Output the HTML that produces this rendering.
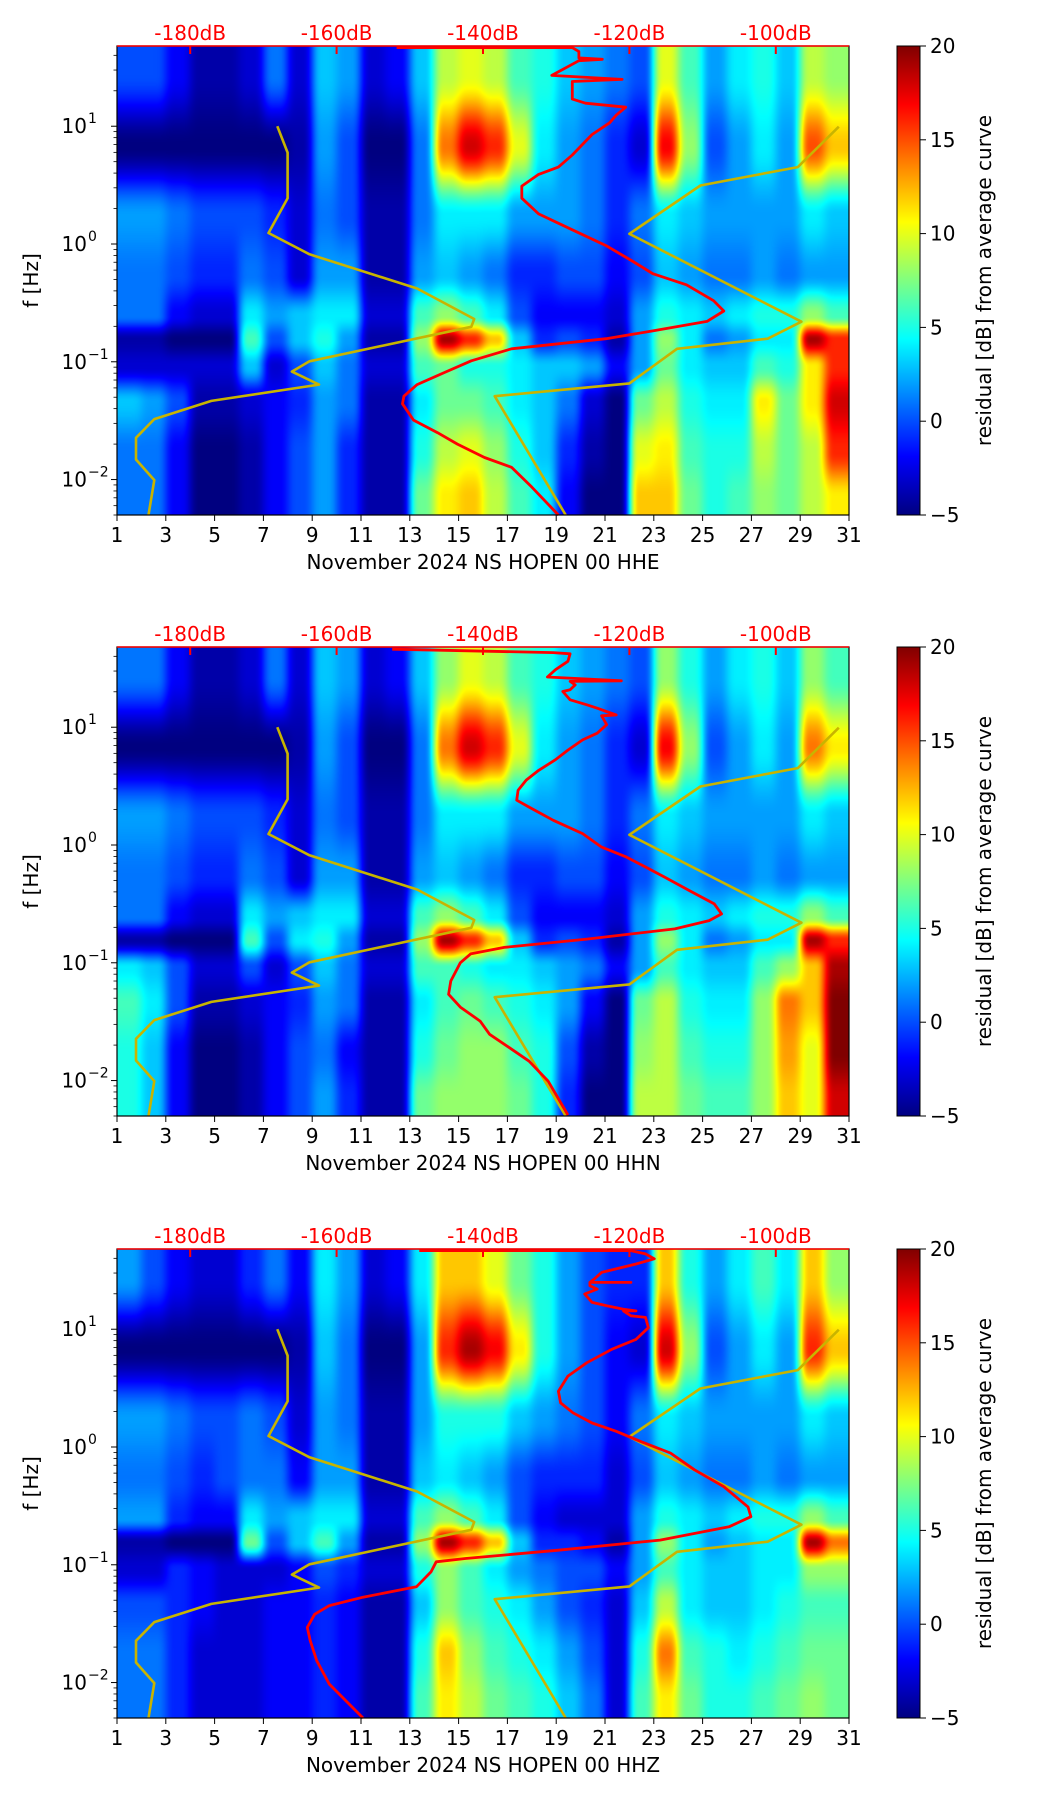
<!DOCTYPE html>
<html><head><meta charset="utf-8">
<style>
html,body{margin:0;padding:0;background:#fff;}
#root{position:relative;width:1052px;height:1806px;overflow:hidden;font-family:"DejaVu Sans","Liberation Sans",sans-serif;}
canvas{position:absolute;}
svg{position:absolute;left:0;top:0;}
</style></head>
<body>
<div id="root"></div>
<script>
// ---- data ----
const days = [1,2,3,4,5,6,7,8,9,10,11,12,13,14,15,16,17,18,19,20,21,22,23,24,25,26,27,28,29,30];
const bandCentersLog = [1.43,0.83,0.24,-0.26,-0.61,-0.81,-1.04,-1.34,-1.76,-2.15];
const xTicks = [1,3,5,7,9,11,13,15,17,19,21,23,25,27,29,31];
const dbTicks = [-180,-160,-140,-120,-100];
const cbTicks = [20,15,10,5,0,-5];
const yDecades = [-2,-1,0,1];

const residualHHE = [
[0,0,-2,-4,-4,-3,1,-3,3,2,-3,-2,3,9,10,9,6,5,3,2,1,0,10,6,2,4,5,3,9,8],
[-5,-5,-5,-5,-5,-5,-5,-4,2,0,-5,-5,1,14,18,16,10,4,2,1,-1,-3,17,8,0,2,4,2,15,12],
[2,2,1,0,0,0,-1,-3,1,0,-4,-4,1,4,4,4,2,2,2,1,-1,1,4,3,2,2,2,2,4,3],
[1,1,0,-1,-1,1,0,-3,2,2,-4,-4,2,3,2,1,-1,-1,0,0,-2,0,3,2,1,1,2,1,2,2],
[1,1,-2,-3,-3,4,2,3,4,4,-3,-3,6,8,6,4,0,-2,-2,-2,-3,2,5,4,3,4,5,5,8,6],
[-4,-4,-5,-5,-5,6,0,3,5,2,-4,-4,8,19,16,12,3,-1,0,-1,-4,2,8,4,1,2,4,4,19,16],
[-3,-3,-3,-3,-3,3,-3,0,3,1,-3,-3,6,7,5,5,4,3,3,2,-2,2,7,4,3,3,6,5,11,16],
[3,2,0,-4,-4,-3,-2,-1,2,1,-4,-4,4,7,7,6,4,3,1,-3,-5,7,9,5,4,4,11,7,11,18],
[1,1,-2,-5,-5,-4,-2,0,2,-1,-4,-4,5,9,10,8,5,3,-1,-4,-5,10,11,6,5,5,9,7,9,16],
[1,1,-2,-5,-5,-4,-2,0,2,-1,-4,-4,7,11,12,9,6,4,-2,-5,-5,12,12,7,5,6,8,7,9,11]];
const residualHHN = [
[1,1,-2,-4,-4,-3,1,-3,3,2,-3,-2,3,8,10,9,6,5,3,2,1,0,8,5,2,4,5,3,8,6],
[-5,-5,-5,-5,-5,-5,-5,-4,2,0,-5,-5,1,14,18,16,10,4,2,1,-1,-3,17,8,0,2,4,2,14,11],
[2,2,1,0,0,0,-1,-3,1,0,-4,-4,1,4,4,4,2,2,2,1,-1,1,4,3,2,2,2,2,4,3],
[1,1,0,-1,-1,1,0,-3,2,2,-4,-4,2,3,2,1,-1,-1,0,0,-2,0,3,2,1,1,2,1,2,2],
[1,1,-2,-3,-3,4,2,3,4,4,-3,-3,6,8,6,4,0,-2,-2,-2,-3,2,5,4,3,4,5,5,8,6],
[-4,-4,-5,-5,-5,6,0,4,5,2,-4,-4,8,19,16,12,3,-1,0,-1,-4,2,8,4,1,2,4,4,19,16],
[4,3,0,-3,-3,0,-3,0,3,1,-3,-3,6,6,5,4,4,3,2,1,-2,2,6,4,3,3,6,8,12,19],
[6,4,0,-4,-4,-3,-2,-1,2,1,-4,-4,4,6,7,6,5,4,2,-2,-5,7,9,5,4,4,8,14,12,20],
[5,3,-2,-5,-5,-4,-2,0,1,-2,-4,-4,5,7,8,8,6,5,0,-4,-5,8,9,6,5,5,8,13,10,20],
[5,3,-2,-5,-5,-4,-2,0,2,-1,-4,-4,7,8,8,8,7,5,-1,-5,-5,9,9,7,6,6,8,12,10,18]];
const residualHHZ = [
[2,0,-2,-3,-3,-1,1,-2,4,2,-3,-2,4,12,12,10,7,5,2,0,-1,-1,12,5,2,4,6,4,12,8],
[-5,-5,-5,-5,-5,-5,-5,-4,3,1,-5,-5,2,16,19,17,11,5,2,0,-2,-3,18,8,0,2,4,2,16,12],
[2,2,1,0,0,1,0,-3,2,1,-4,-4,2,5,5,5,3,2,1,0,-2,1,4,3,2,2,2,2,4,3],
[1,1,0,-1,0,1,1,-2,2,2,-4,-4,3,4,3,2,0,-1,-1,-1,-3,0,3,2,1,1,2,1,2,2],
[2,2,-1,-2,-2,4,2,3,4,4,-3,-3,6,8,6,4,0,-2,-3,-3,-3,2,5,4,3,4,5,5,8,6],
[-4,-4,-5,-5,-5,7,0,3,6,2,-4,-4,8,19,16,12,3,-1,-1,-2,-4,2,8,4,2,3,4,4,19,14],
[-3,-3,-1,-2,-3,-3,-3,-2,0,-1,-3,-3,5,8,6,4,2,1,0,0,-2,2,6,4,3,3,4,4,8,8],
[0,0,-1,-2,-3,-3,-2,-2,-1,-2,-4,-4,3,8,6,5,4,2,0,-1,-3,3,9,4,3,3,4,5,6,6],
[1,1,-1,-3,-3,-3,-2,-2,-1,-2,-4,-4,5,12,8,6,5,4,2,0,-3,5,14,6,5,4,5,6,7,7],
[1,1,-1,-3,-3,-3,-2,-2,-1,-2,-4,-4,6,11,9,7,6,5,3,1,-3,6,11,7,5,5,6,7,8,7]];

// red average PSD curves: [dB, Hz]
const redHHE = [[-151.8,46.5],[-127.8,46.5],[-126.9,43],[-126.9,38],[-123.7,37],[-126.9,36],[-130.6,27],[-121.0,25],[-127.8,24],[-127.8,21.4],[-127.8,17],[-126,15.7],[-120.5,14.5],[-121.8,12.4],[-122.7,10.7],[-125.1,8.5],[-127.8,5.7],[-129.7,4.5],[-132.4,3.9],[-134.7,3.1],[-134.7,2.45],[-132.4,1.8],[-127.8,1.32],[-123.2,0.97],[-119.5,0.71],[-116.8,0.56],[-112.2,0.45],[-108.5,0.33],[-107.1,0.27],[-109.4,0.22],[-116.8,0.183],[-123.2,0.157],[-136.1,0.129],[-141.6,0.102],[-145.3,0.081],[-149,0.064],[-150.8,0.051],[-151,0.044],[-149.5,0.032],[-146.2,0.025],[-143.5,0.02],[-139.8,0.0154],[-136.1,0.0127],[-133.3,0.0086],[-129.7,0.005]];
const redHHN = [[-152.4,46],[-130.4,43],[-128.1,42],[-128.4,36.3],[-130.1,30.8],[-131.2,26.7],[-121.1,24.8],[-128.1,24.5],[-127.4,22.9],[-128.1,20.8],[-129.1,20.1],[-128.1,17.1],[-125.8,15.5],[-124.4,14.5],[-121.8,12.7],[-123.8,12.5],[-123.1,10.5],[-124.4,8.9],[-126.4,7.8],[-128.4,6.4],[-130.1,5.3],[-132.4,4.3],[-134.1,3.56],[-135.2,2.92],[-135.4,2.4],[-133.7,2.1],[-130.4,1.62],[-126.4,1.25],[-123.8,0.96],[-120.4,0.79],[-117.8,0.65],[-115.1,0.53],[-111.8,0.41],[-108.4,0.316],[-107.4,0.26],[-109.1,0.228],[-113.8,0.194],[-125.8,0.159],[-137.1,0.135],[-141.7,0.119],[-143.1,0.1],[-144.4,0.07],[-144.7,0.054],[-143.1,0.042],[-140.4,0.032],[-139.1,0.0247],[-136.4,0.019],[-133.7,0.0146],[-131.1,0.0099],[-128.4,0.0051]];
const redHHZ = [[-148.7,46.5],[-119.8,46.5],[-117.8,43.6],[-116.6,39.6],[-119.1,35.8],[-123.8,30.4],[-124.8,26.7],[-125.4,25],[-119.8,25],[-125.4,25],[-125.4,23.4],[-124.4,21.9],[-126.1,19.9],[-125.1,16.9],[-123.1,15.8],[-120.8,14.8],[-119.1,14.3],[-120.8,14.3],[-119.8,13],[-117.8,12.6],[-117.4,10.3],[-119.1,8.2],[-122.4,6.75],[-125.8,5.2],[-128.4,4.0],[-129.7,2.98],[-129.4,2.37],[-127.7,1.95],[-125.1,1.6],[-121.8,1.36],[-118.4,1.11],[-114.4,0.89],[-111.1,0.64],[-107.1,0.46],[-103.8,0.31],[-103.4,0.256],[-106.4,0.21],[-115.8,0.162],[-129.7,0.133],[-142.4,0.113],[-146.4,0.106],[-147.1,0.087],[-149.1,0.065],[-156.4,0.053],[-161,0.045],[-163,0.038],[-164,0.0294],[-163.6,0.0227],[-162.7,0.0153],[-161,0.0097],[-156.4,0.005]];
// yellow reference curves: [dB, Hz]
const yellowA = [[-168.1,10],[-166.7,5.97],[-166.7,2.45],[-169.3,1.24],[-163.7,0.817],[-149,0.419],[-141.2,0.231],[-141.6,0.198],[-163.7,0.101],[-166.1,0.0826],[-162.4,0.064],[-177.1,0.0465],[-184.9,0.0326],[-187.4,0.0226],[-187.4,0.0148],[-184.9,0.0099],[-185.7,0.005]];
const yellowB = [[-91.4,9.9],[-97,4.5],[-110.3,3.14],[-120,1.22],[-96.5,0.219],[-101.1,0.157],[-113.5,0.129],[-120,0.0655],[-138.4,0.051],[-128.7,0.005]];

const panels = [
 {top:46, grid:residualHHE, red:redHHE, label:"November 2024 NS HOPEN 00 HHE", key:"hhe"},
 {top:647, grid:residualHHN, red:redHHN, label:"November 2024 NS HOPEN 00 HHN", key:"hhn"},
 {top:1249, grid:residualHHZ, red:redHHZ, label:"November 2024 NS HOPEN 00 HHZ", key:"hhz"}];

// ---- layout ----
const L=117, W=732, H=469, CBX=897, CBW=23, FS=20;
const FMAX=48, FMIN=0.005, DBMIN=-190, DBMAX=-90, VMIN=-5, VMAX=20;
const LMAX=Math.log10(FMAX), LMIN=Math.log10(FMIN);
const xDay = d => L + (d-1)/30*W;
const xDb = v => L + (v-DBMIN)/(DBMAX-DBMIN)*W;
const yF = (top,f) => top + (LMAX-Math.log10(f))/(LMAX-LMIN)*H;
function jet(v){v=Math.max(0,Math.min(1,v));const c=t=>Math.round(255*Math.max(0,Math.min(1,1.5-Math.abs(t))));return [c(4*v-3),c(4*v-2),c(4*v-1)];}
const sm = x => x*x*(3-2*x);
const root=document.getElementById('root');
const NS='http://www.w3.org/2000/svg';
const svg=document.createElementNS(NS,'svg');
svg.setAttribute('width',1052);svg.setAttribute('height',1806);
function mk(tag,attrs,parent){const e=document.createElementNS(NS,tag);for(const k in attrs)e.setAttribute(k,attrs[k]);(parent||svg).appendChild(e);return e;}
function txt(s,attrs,parent){const e=mk('text',attrs,parent);e.textContent=s;return e;}

function sampleGrid(grid,t,lf){
  let c=t-1.5; c=Math.max(0,Math.min(days.length-1,c));
  const c0=Math.floor(c), c1=Math.min(days.length-1,c0+1), fc=sm(sm(c-c0));
  let r; const bc=bandCentersLog;
  if(lf>=bc[0]) r=0; else if(lf<=bc[bc.length-1]) r=bc.length-1; else {
    for(let i=0;i<bc.length-1;i++){ if(lf<=bc[i]&&lf>=bc[i+1]){ r=i+(bc[i]-lf)/(bc[i]-bc[i+1]); break; } }
  }
  const r0=Math.floor(r), r1=Math.min(bc.length-1,r0+1), fr=sm(r-r0);
  const v=(a,b)=>grid[a][b];
  const top=v(r0,c0)*(1-fc)+v(r0,c1)*fc, bot=v(r1,c0)*(1-fc)+v(r1,c1)*fc;
  return top*(1-fr)+bot*fr;
}

panels.forEach((p,pi)=>{
  const g=mk('g',{});
  
  
  const cv=document.createElement('canvas');
  cv.width=W;cv.height=H;cv.style.left=L+'px';cv.style.top=p.top+'px';
  
  
  root.appendChild(cv);
  const ctx=cv.getContext('2d');const img=ctx.createImageData(W,H);
  for(let y=0;y<H;y++){const lf=LMAX-(y+0.5)/H*(LMAX-LMIN);
    for(let x=0;x<W;x++){const t=1+(x+0.5)/W*30;
      const val=sampleGrid(p.grid,t,lf);const col=jet((val-VMIN)/(VMAX-VMIN));
      const i=(y*W+x)*4;img.data[i]=col[0];img.data[i+1]=col[1];img.data[i+2]=col[2];img.data[i+3]=255;}}
  ctx.putImageData(img,0,0);

  const pts=a=>a.map(q=>xDb(q[0]).toFixed(1)+','+yF(p.top,q[1]).toFixed(1)).join(' ');
  const ya=mk('polyline',{points:pts(yellowA),fill:'none',stroke:'#c8b400','stroke-width':2.6,'stroke-linejoin':'round'},g);
  
  
  const yb=mk('polyline',{points:pts(yellowB),fill:'none',stroke:'#c8b400','stroke-width':2.6,'stroke-linejoin':'round'},g);
  
  
  const rl=mk('polyline',{points:pts(p.red),fill:'none',stroke:'#ff0000','stroke-width':2.8,'stroke-linejoin':'round'},g);
  
  

  const fr=mk('rect',{x:L,y:p.top,width:W,height:H,fill:'none',stroke:'#000','stroke-width':1.2},g);
  
  
  mk('line',{x1:L,x2:L+W,y1:p.top,y2:p.top,stroke:'#ff0000','stroke-width':1.6},g);
  dbTicks.forEach(v=>{
    mk('line',{x1:xDb(v),x2:xDb(v),y1:p.top,y2:p.top+8,stroke:'#ff0000','stroke-width':2},g);
    const t=txt(v+'dB',{x:xDb(v),y:p.top-6,'text-anchor':'middle','font-size':FS,fill:'#ff0000'},g);
    
    
  });
  xTicks.forEach(d=>{
    mk('line',{x1:xDay(d),x2:xDay(d),y1:p.top+H,y2:p.top+H+6,stroke:'#000','stroke-width':1},g);
    const t=txt(String(d),{x:xDay(d),y:p.top+H+27,'text-anchor':'middle','font-size':FS,fill:'#000'},g);
    
    
  });
  const xl=txt(p.label,{x:L+W/2,y:p.top+H+54,'text-anchor':'middle','font-size':FS,fill:'#000'},g);
  
  
  for(let e=-3;e<=1;e++){for(let m=1;m<10;m++){const f=m*Math.pow(10,e);if(f<FMIN||f>FMAX)continue;
    const y=yF(p.top,f);mk('line',{x1:L-(m===1?6:3.5),x2:L,y1:y,y2:y,stroke:'#000','stroke-width':m===1?1:0.8},g);}}
  yDecades.forEach(e=>{const y=yF(p.top,Math.pow(10,e));
    const t=txt('10',{x:L-30,y:y+7,'text-anchor':'end','font-size':FS,fill:'#000'},g);
    
    
    txt(e<0?'\u2212'+(-e):String(e),{x:L-29,y:y-3,'font-size':14,fill:'#000'},g);
  });
  const yl=txt('f [Hz]',{x:0,y:0,'text-anchor':'middle','font-size':FS,fill:'#000',transform:'translate(38,'+(p.top+H/2)+') rotate(-90)'},g);
  
  
  const gid='jetg'+pi;const lg=mk('linearGradient',{id:gid,x1:0,y1:1,x2:0,y2:0},g);
  for(let s=0;s<=8;s++){const c=jet(s/8);mk('stop',{offset:s/8,'stop-color':'rgb('+c.join(',')+')'},lg);}
  const cb=mk('rect',{x:CBX,y:p.top,width:CBW,height:H,fill:'url(#'+gid+')',stroke:'#000','stroke-width':1},g);
  
  
  cbTicks.forEach(v=>{const y=p.top+(VMAX-v)/(VMAX-VMIN)*H;
    mk('line',{x1:CBX+CBW,x2:CBX+CBW+6,y1:y,y2:y,stroke:'#000','stroke-width':1},g);
    const t=txt(v<0?'\u2212'+(-v):String(v),{x:CBX+CBW+10,y:y+7,'font-size':FS,fill:'#000'},g);
    
    
  });
  const cl=txt('residual [dB] from average curve',{x:0,y:0,'text-anchor':'middle','font-size':FS,fill:'#000',transform:'translate(991,'+(p.top+H/2)+') rotate(-90)'},g);
  
  
});
root.appendChild(svg);
</script>
</body></html>
